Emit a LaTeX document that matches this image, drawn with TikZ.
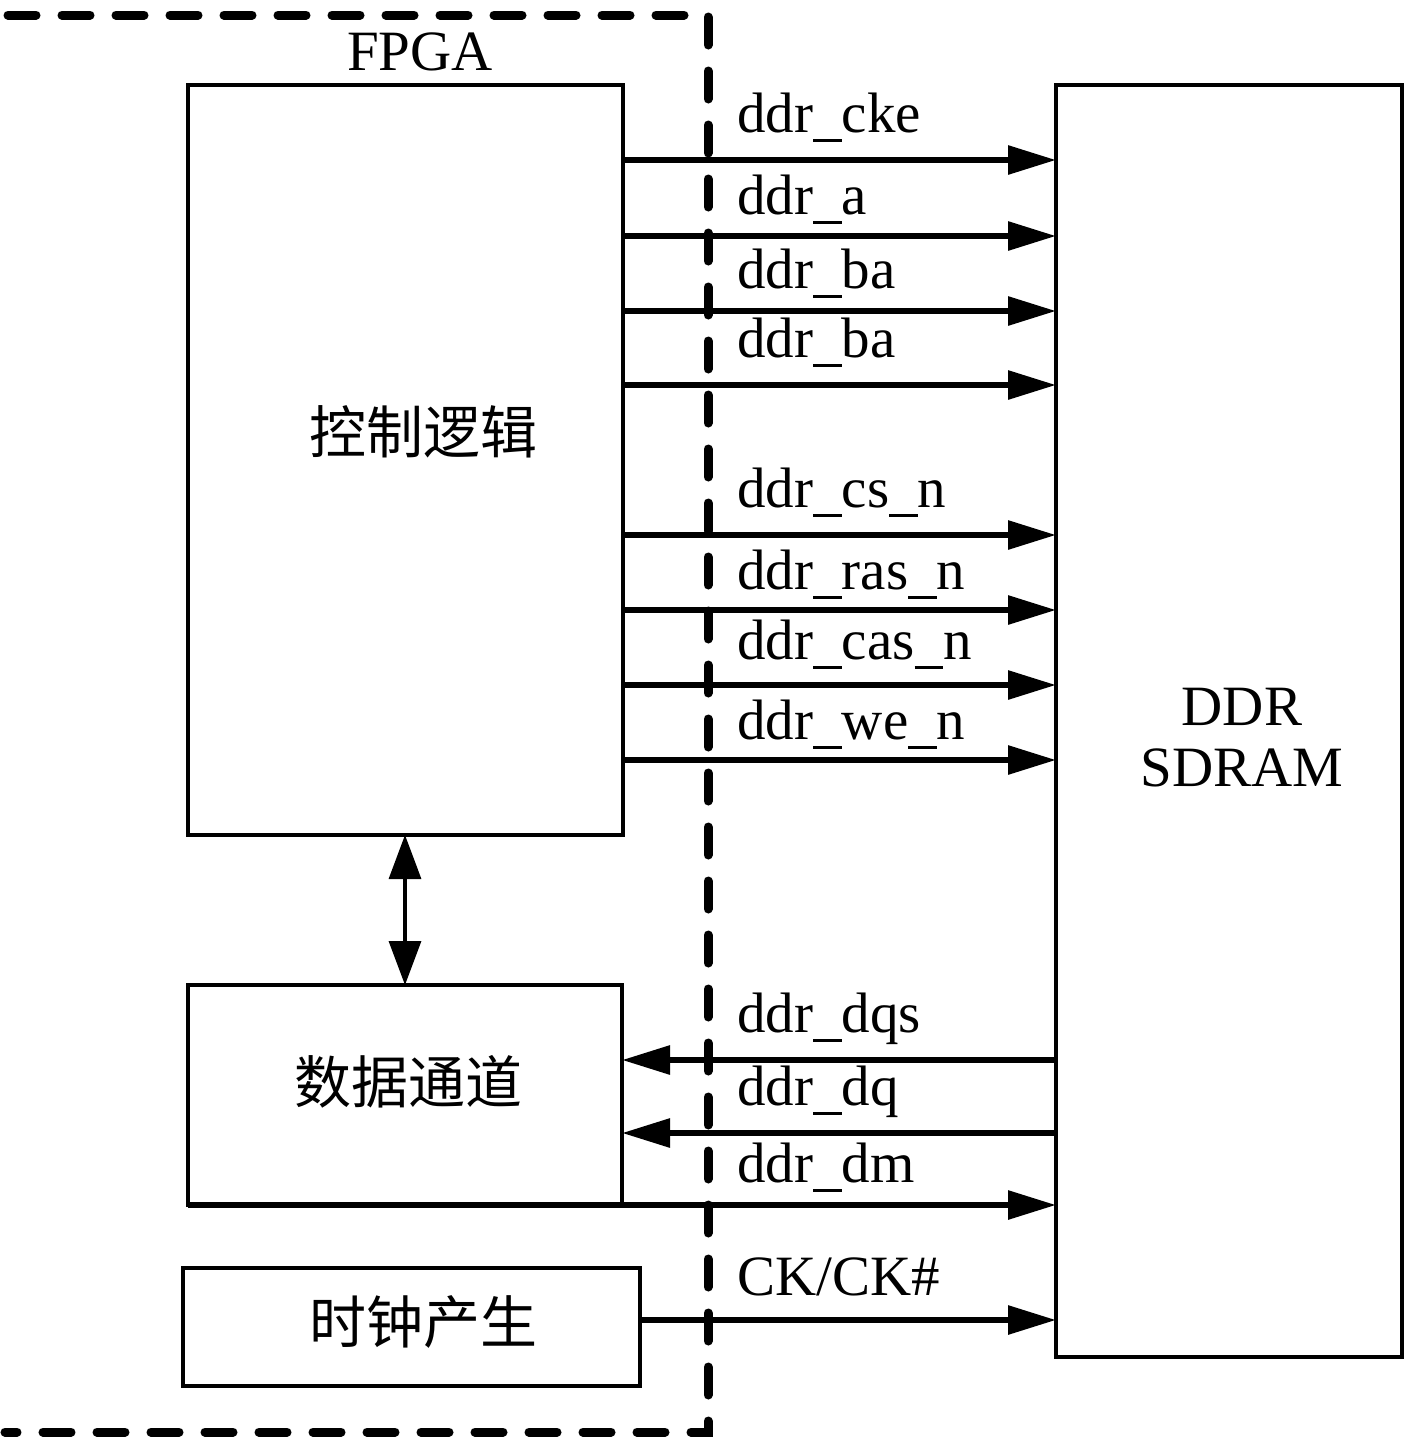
\documentclass[tikz,border=0pt]{standalone}
\usepackage{fontspec}
\setmainfont{Liberation Serif}
\newfontfamily\cjk{Noto Sans CJK SC}
\usetikzlibrary{arrows.meta}
\newcommand\us{\rule[-0.17em]{0.5em}{0.045em}}
\begin{document}
\begin{tikzpicture}[x=0.5pt,y=-0.5pt,
  box/.style={draw,line width=2.2pt,inner sep=0pt,outer sep=0pt},
  sig/.style={line width=3pt,-{Triangle[length=24pt,width=14pt]}},
  lbl/.style={anchor=base west,inner sep=0pt,font=\fontsize{28.5pt}{30pt}\selectfont},
  cn/.style={inner sep=0pt,font=\cjk\fontsize{28.5pt}{30pt}\selectfont},
  border/.style={line width=4.5pt,dash pattern=on 14pt off 13pt,line cap=round}]
\useasboundingbox (0,0) rectangle (1417,1448);
% FPGA border
\draw[border] (8,15) -- (708,15) -- (708,1432) -- (5,1432);
\node[inner sep=0pt,font=\fontsize{28.5pt}{30pt}\selectfont] (fpga) at (420,52) {FPGA};
% boxes
\node[box,minimum width=217.5pt,minimum height=375pt] (ctrl) at (405.5,460) {};
\node[cn] (ctrltxt) at (423,432) {控制逻辑};
\node[box,minimum width=217pt,minimum height=110pt] (dp) at (405,1095) {};
\node[cn] (dptxt) at (408,1082) {数据通道};
\node[box,minimum width=228.5pt,minimum height=59pt] (clk) at (411.5,1327) {};
\node[cn] (clktxt) at (423,1322) {时钟产生};
\node[box,minimum width=173pt,minimum height=636pt] (ddr) at (1229,721) {};
\node[inner sep=0pt,align=center,font=\fontsize{28.5pt}{30.5pt}\selectfont] (ddrtxt) at (1242,738) {DDR\\SDRAM};
% bidirectional
\draw[line width=1.6pt,{Triangle[length=22pt,width=16pt]}-{Triangle[length=22pt,width=16pt]}] (ctrl.south -| 405,0) -- (dp.north -| 405,0);
% outgoing control signals
\foreach \y/\d/\t in {160/28/ddr\us cke,236/22/ddr\us a,311/23/ddr\us ba,385/28/ddr\us ba,535/28/ddr\us cs\us n,610/21/ddr\us ras\us n,685/26/ddr\us cas\us n,760/21/ddr\us we\us n}{
  \draw[sig] (ctrl.east |- 0,\y) -- (ddr.west |- 0,\y);
  \node[lbl] at (737,\y-\d) {\t};
}
% data signals
\draw[sig] (ddr.west |- 0,1060) -- (dp.east |- 0,1060);
\node[lbl] (ldqs) at (737,1032) {ddr\us dqs};
\draw[sig] (ddr.west |- 0,1133) -- (dp.east |- 0,1133);
\node[lbl] (ldq) at (737,1105) {ddr\us dq};
\draw[sig] (dp.south west) -- (ddr.west |- dp.south);
\node[lbl] (ldm) at (737,1182) {ddr\us dm};
% clock
\draw[sig] (clk.east |- 0,1320) -- (ddr.west |- 0,1320);
\node[lbl] (lck) at (737,1295) {CK/CK\#};
\end{tikzpicture}
\end{document}
